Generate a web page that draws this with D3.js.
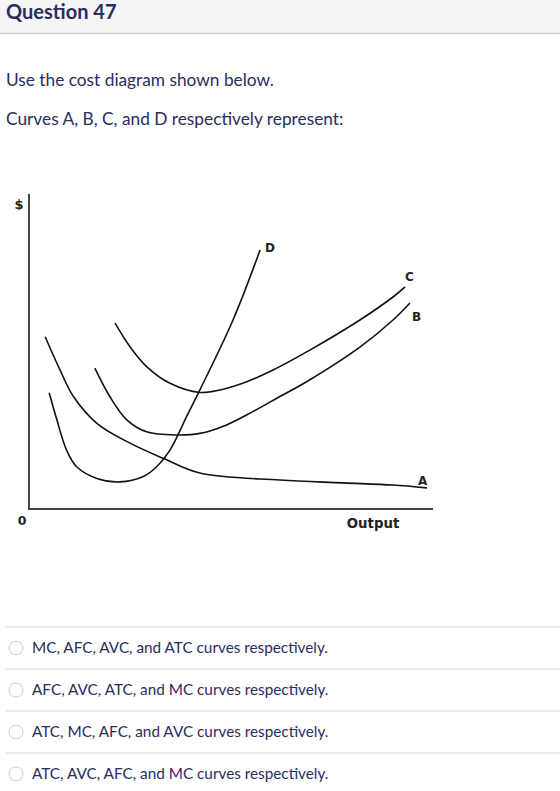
<!DOCTYPE html>
<html>
<head>
    <meta charset="UTF-8">
    <title>Question 47</title>
    <script src="https://cdn.jsdelivr.net/npm/d3@7"></script>
    <style>
        body { margin: 0; background: #fff; }
        svg { display: block; }
    </style>
</head>
<body>
    <script>
        // curve points (output on x, $ on y, both 0..100)
        var aX = [4.0, 7.7, 11.0, 16.8, 25.0, 33.2, 42.3, 62.1, 77.7, 90.1, 98.5]
        var aY = [54.7, 44.1, 35.7, 27.2, 20.9, 16.1, 11.4, 9.2, 8.3, 7.6, 6.7]
        var bX = [16.3, 20.0, 24.2, 29.1, 36.6, 42.3, 48.9, 55.4, 62.1, 68.7, 81.9, 90.1, 94.3]
        var bY = [44.7, 35.7, 28.3, 24.5, 23.5, 24.0, 26.7, 30.9, 35.7, 40.4, 51.4, 60.0, 65.4]
        var cX = [21.3, 25.0, 29.1, 34.9, 42.3, 47.3, 53.9, 60.4, 69.6, 81.9, 90.1, 93.1]
        var cY = [59.0, 51.5, 45.2, 39.9, 37.0, 37.8, 40.4, 44.1, 50.5, 60.0, 67.3, 70.5]
        var dX = [5.0, 6.9, 9.3, 11.8, 16.8, 22.5, 28.3, 31.6, 34.9, 39.0, 42.3, 50.5, 57.2]
        var dY = [36.9, 28.3, 18.7, 13.4, 9.7, 8.6, 10.3, 13.4, 18.7, 29.3, 37.8, 60.0, 82.2]

        var title = 'Question 47'
        var prompts = ['Use the cost diagram shown below.', 'Curves A, B, C, and D respectively represent:']
        var answers = [
            'MC, AFC, AVC, and ATC curves respectively.',
            'AFC, AVC, ATC, and MC curves respectively.',
            'ATC, MC, AFC, and AVC curves respectively.',
            'ATC, AVC, AFC, and MC curves respectively.'
        ]

        var navy = '#2b2d5c'
        var font = 'Lato, "Open Sans", sans-serif'

        var svg = d3.select('body')
            .append('svg')
            .attr('width', 560)
            .attr('height', 791)

        // header bar
        svg.append('rect')
            .attr('x', 0).attr('y', 0)
            .attr('width', 560).attr('height', 33)
            .attr('fill', '#f5f5f5')
        svg.append('line')
            .attr('x1', 0).attr('x2', 560)
            .attr('y1', 33.5).attr('y2', 33.5)
            .attr('stroke', '#c7cdd1')
            .attr('stroke-width', 1.5)
        svg.append('text')
            .attr('x', 6).attr('y', 19)
            .attr('font-family', font)
            .attr('font-weight', 'bold')
            .attr('font-size', 20)
            .attr('fill', navy)
            .text(title)

        svg.selectAll('.prompt')
            .data(prompts)
            .enter()
            .append('text')
            .attr('class', 'prompt')
            .attr('x', 6)
            .attr('y', function(d, i){ return 86 + i*39 })
            .attr('font-family', font)
            .attr('font-size', 17.3)
            .attr('fill', navy)
            .text(function(d){ return d })

        // chart
        var x = d3.scaleLinear().domain([0, 100]).range([29, 433])
        var y = d3.scaleLinear().domain([0, 100]).range([509, 194])

        var axisColor = '#444'
        svg.append('line')
            .attr('x1', x(0)).attr('x2', x(0))
            .attr('y1', y(100)).attr('y2', y(0))
            .attr('stroke', axisColor).attr('stroke-width', 2)
        svg.append('line')
            .attr('x1', x(0) - 1).attr('x2', x(100))
            .attr('y1', y(0)).attr('y2', y(0))
            .attr('stroke', axisColor).attr('stroke-width', 2)

        var chartFont = '"DejaVu Sans", Verdana, sans-serif'
        svg.append('text')
            .attr('x', x(0) - 10).attr('y', y(100) + 15)
            .attr('text-anchor', 'middle')
            .attr('font-family', chartFont).attr('font-weight', 'bold').attr('font-size', 13)
            .attr('fill', '#222')
            .text('$')
        svg.append('text')
            .attr('x', x(0) - 7).attr('y', y(0) + 16)
            .attr('text-anchor', 'middle')
            .attr('font-family', chartFont).attr('font-weight', 'bold').attr('font-size', 12.5)
            .attr('fill', '#222')
            .text('0')
        svg.append('text')
            .attr('x', 373).attr('y', y(0) + 19)
            .attr('text-anchor', 'middle')
            .attr('font-family', chartFont).attr('font-weight', 'bold').attr('font-size', 13.3)
            .attr('fill', '#222')
            .text('Output')

        var curves = [
            { name: 'A', xs: aX, ys: aY, dx: -9, dy: -3 },
            { name: 'B', xs: bX, ys: bY, dx: 2, dy: 18 },
            { name: 'C', xs: cX, ys: cY, dx: 0, dy: -6 },
            { name: 'D', xs: dX, ys: dY, dx: 5, dy: 2 }
        ]

        var line = d3.line()
            .x(function(d){ return x(d[0]) })
            .y(function(d){ return y(d[1]) })
            .curve(d3.curveCatmullRom.alpha(0.5))

        curves.forEach(function(c){
            var pts = d3.zip(c.xs, c.ys)
            svg.append('path')
                .attr('d', line(pts))
                .attr('fill', 'none')
                .attr('stroke', '#111')
                .attr('stroke-width', 1.6)
            var last = pts[pts.length - 1]
            svg.append('text')
                .attr('x', x(last[0]) + c.dx)
                .attr('y', y(last[1]) + c.dy)
                .attr('font-family', chartFont).attr('font-weight', 'bold').attr('font-size', 12)
                .attr('fill', '#222')
                .text(c.name)
        })

        // answer options
        var rowTop = 627
        var rowH = 42
        var rows = svg.selectAll('.answer')
            .data(answers)
            .enter()
            .append('g')
            .attr('class', 'answer')
            .attr('transform', function(d, i){ return 'translate(0,' + (rowTop + i*rowH) + ')' })

        rows.append('line')
            .attr('x1', 5).attr('x2', 560)
            .attr('y1', 0).attr('y2', 0)
            .attr('stroke', '#e2e4e6').attr('stroke-width', 1.5)
        rows.append('circle')
            .attr('cx', 16).attr('cy', 21)
            .attr('r', 7)
            .attr('fill', '#fff')
            .attr('stroke', '#c7cdd1').attr('stroke-width', 1)
        rows.append('text')
            .attr('x', 32).attr('y', 26)
            .attr('font-family', font)
            .attr('font-size', 15.3)
            .attr('fill', navy)
            .text(function(d){ return d })
    </script>
</body>
</html>
